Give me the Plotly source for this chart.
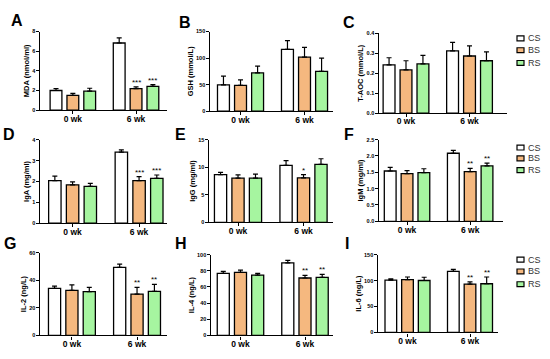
import plotly.graph_objects as go

# ---------------- data ----------------
categories = ["0 wk", "6 wk"]
groups = ["CS", "BS", "RS"]

# each *_mean / *_err: rows = CS, BS, RS ; columns = 0 wk, 6 wk
mda_mean = [[2.0, 6.83], [1.5, 2.2], [1.93, 2.43]]
mda_err = [[0.2, 0.53], [0.2, 0.17], [0.3, 0.17]]
mda_stars = [["", ""], ["", "***"], ["", "***"]]

gsh_mean = [[49.6, 116.5], [48.4, 101.7], [72.0, 75.0]]
gsh_err = [[16.4, 16.5], [10.6, 18.3], [13.0, 25.0]]
gsh_stars = [["", ""], ["", ""], ["", ""]]

taoc_mean = [[0.242, 0.313], [0.217, 0.287], [0.247, 0.263]]
taoc_err = [[0.036, 0.042], [0.046, 0.051], [0.043, 0.045]]
taoc_stars = [["", ""], ["", ""], ["", ""]]

iga_mean = [[2.04, 3.40], [1.84, 2.04], [1.77, 2.15]]
iga_err = [[0.22, 0.11], [0.14, 0.19], [0.14, 0.16]]
iga_stars = [["", ""], ["", "***"], ["", "***"]]

igg_mean = [[8.67, 10.34], [8.0, 8.07], [8.0, 10.52]]
igg_err = [[0.41, 0.84], [0.6, 0.6], [0.73, 1.02]]
igg_stars = [["", ""], ["", "*"], ["", ""]]

igm_mean = [[1.54, 2.085], [1.46, 1.52], [1.49, 1.70]]
igm_err = [[0.11, 0.085], [0.09, 0.10], [0.12, 0.08]]
igm_stars = [["", ""], ["", "**"], ["", "**"]]

il2_mean = [[34.1, 49.4], [32.6, 30.0], [31.7, 31.9]]
il2_err = [[1.7, 2.4], [4.1, 4.8], [3.1, 5.1]]
il2_stars = [["", ""], ["", "**"], ["", "**"]]

il4_mean = [[76.8, 89.8], [78.0, 71.1], [74.8, 72.0]]
il4_err = [[2.5, 3.2], [2.9, 3.3], [2.0, 3.6]]
il4_stars = [["", ""], ["", "**"], ["", "**"]]

il6_mean = [[100.8, 117.8], [102.0, 93.3], [100.2, 93.9]]
il6_err = [[2.5, 3.8], [5.0, 4.4], [6.3, 13.1]]
il6_stars = [["", ""], ["", "**"], ["", "**"]]

panel_letters = ["A", "B", "C", "D", "E", "F", "G", "H", "I"]
y_titles = ["MDA (nmol/ml)", "GSH (mmol/L)", "T-AOC (mmol/L)",
            "IgA (mg/ml)", "IgG (mg/ml)", "IgM (mg/ml)",
            "IL-2 (ng/L)", "IL-4 (ng/L)", "IL-6 (ng/L)"]
y_max = [8, 150, 0.4, 4, 15, 2.5, 60, 100, 150]
y_dtick = [2, 50, 0.1, 1, 5, 0.5, 20, 20, 50]

means = [mda_mean, gsh_mean, taoc_mean, iga_mean, igg_mean, igm_mean, il2_mean, il4_mean, il6_mean]
errs = [mda_err, gsh_err, taoc_err, iga_err, igg_err, igm_err, il2_err, il4_err, il6_err]
stars = [mda_stars, gsh_stars, taoc_stars, iga_stars, igg_stars, igm_stars, il2_stars, il4_stars, il6_stars]

# ---------------- style / layout ----------------
W, H = 550, 359
FONT = "Arial, 'Liberation Sans', Helvetica, sans-serif"
colors = ["#FFFFFF", "#F5B87F", "#A6F5A0"]
BARGAP, BARGROUPGAP = 0.2, 0.3

# plot boxes in pixels: x0, x1, ytop, ybottom ; category-axis range
boxes = [
    (40, 167, 29, 109, (-0.52, 1.49)),
    (210, 333, 29, 110, (-0.477, 1.445)),
    (379, 507, 31, 112, (-0.425, 1.59)),
    (40, 167, 139, 224, (-0.49, 1.42)),
    (209, 333, 139, 223, (-0.443, 1.45)),
    (379, 503, 139, 222, (-0.444, 1.52)),
    (40, 167, 254, 338, (-0.49, 1.46)),
    (211, 333, 256, 338, (-0.457, 1.434)),
    (378, 498, 256, 335, (-0.472, 1.448)),
]
letter_pos = [(17, 18), (185, 20), (349, 20), (9, 134), (180, 134), (349, 134),
              (10, 245), (181, 245), (347, 245)]
legend_rows = [(36, 48, 61), (147, 158, 170), (261, 273, 286)]

fig = go.Figure()
annotations = []
shapes = []
layout = {}

for p in range(9):
    ax = "" if p == 0 else str(p + 1)
    x0, x1, yt, yb, xr = boxes[p]
    for g in range(3):
        fig.add_trace(go.Bar(
            x=categories, y=means[p][g], name=groups[g],
            marker=dict(color=colors[g], line=dict(color="black", width=1.3)),
            error_y=dict(type="data", symmetric=False, array=errs[p][g],
                         arrayminus=[0, 0], color="black", thickness=1.2, width=2.5),
            xaxis="x" + ax, yaxis="y" + ax,
            offsetgroup=str(g), legendgroup=groups[g], showlegend=False,
        ))
        # significance stars
        px_per_cat = (x1 - x0) / (xr[1] - xr[0])
        slot = px_per_cat * (1 - BARGAP) / 3
        for k, c in enumerate(categories):
            s = stars[p][g][k]
            if s:
                annotations.append(dict(
                    x=c, y=means[p][g][k] + errs[p][g][k], xref="x" + ax, yref="y" + ax,
                    text=s, showarrow=False, yanchor="bottom", xshift=(g - 1) * slot,
                    yshift=-2, font=dict(family=FONT, size=8, color="black")))
    layout["xaxis" + ax] = dict(
        domain=[x0 / W, x1 / W], anchor="y" + ax, type="category", range=list(xr),
        showline=True, linecolor="black", linewidth=1.3, ticks="outside", ticklen=3,
        tickwidth=1.2, tickcolor="black", showgrid=False, zeroline=False,
        ticklabelstandoff=-3,
        tickfont=dict(family=FONT, size=8.5, color="black", weight="bold"), fixedrange=True)
    layout["yaxis" + ax] = dict(
        domain=[1 - yb / H, 1 - yt / H], anchor="x" + ax, range=[0, y_max[p]],
        dtick=y_dtick[p], tickformat=".1f" if y_dtick[p] < 1 else "d",
        showline=True, linecolor="black", linewidth=1.3, ticks="outside", ticklen=2.5,
        tickwidth=1, tickcolor="black", showgrid=False, zeroline=False,
        tickfont=dict(family=FONT, size=5.5, color="black", weight="bold"),
        title=dict(text=y_titles[p], standoff=1,
                   font=dict(family=FONT, size=7.5, color="black", weight="bold")),
        fixedrange=True)
    lx, ly = letter_pos[p]
    annotations.append(dict(x=lx / W, y=1 - ly / H, xref="paper", yref="paper",
                            text="<b>%s</b>" % panel_letters[p], showarrow=False,
                            xanchor="center", yanchor="middle",
                            font=dict(family=FONT, size=16, color="black")))

# legend keys beside the right-hand column of each row
for row in range(3):
    for g in range(3):
        cy = legend_rows[row][g]
        shapes.append(dict(type="rect", xref="paper", yref="paper",
                           x0=517 / W, x1=524 / W, y0=1 - (cy + 2.5) / H, y1=1 - (cy - 2.5) / H,
                           fillcolor=colors[g], line=dict(color="black", width=1.2)))
        annotations.append(dict(x=526 / W, y=1 - cy / H, xref="paper", yref="paper",
                                text=groups[g], showarrow=False, xanchor="left",
                                yanchor="middle",
                                font=dict(family=FONT, size=9, color="#333333")))

fig.update_layout(
    width=W, height=H, margin=dict(l=0, r=0, t=0, b=0),
    paper_bgcolor="white", plot_bgcolor="white",
    barmode="group", bargap=BARGAP, bargroupgap=BARGROUPGAP,
    annotations=annotations, shapes=shapes, showlegend=False, **layout)

fig.write_html("out.html", config={"displayModeBar": False},
               post_script="document.body.style.margin='0';document.body.style.overflow='hidden';")
